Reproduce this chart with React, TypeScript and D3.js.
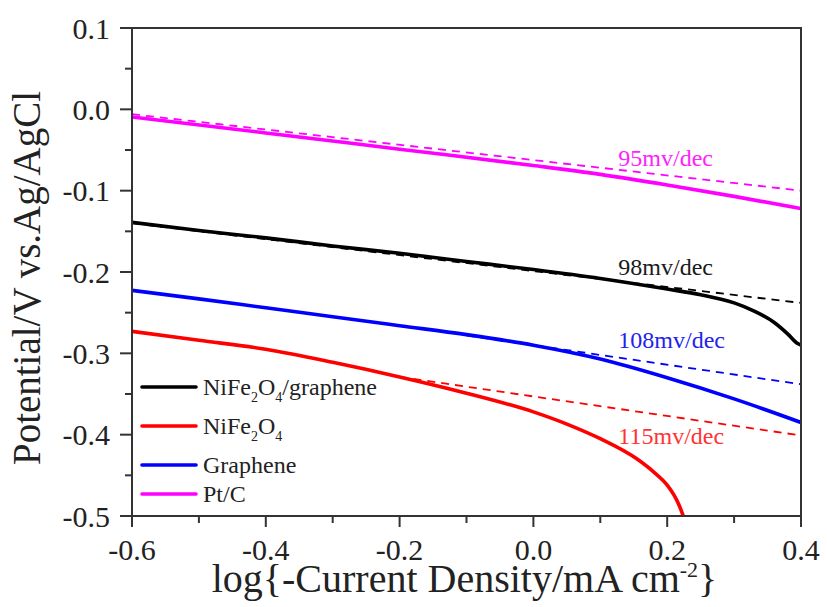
import React from "react";
import * as d3 from "d3";

// ---- data ----
const seriesNames = ["NiFe2O4/graphene", "NiFe2O4", "Graphene", "Pt/C"];
const seriesColors = ["#000000", "#ff0000", "#0000ff", "#ff00ff"];

const blackX = [-0.6, -0.5, -0.4, -0.3, -0.2, -0.1, 0, 0.1, 0.2, 0.25, 0.3, 0.33, 0.36, 0.38, 0.395, 0.4];
const blackY = [-0.139, -0.149, -0.158, -0.168, -0.177, -0.187, -0.197, -0.208, -0.221, -0.228, -0.238, -0.248, -0.262, -0.276, -0.288, -0.29];

const redX = [-0.6, -0.5, -0.4, -0.3, -0.2, -0.1, 0, 0.05, 0.1, 0.155, 0.18, 0.2, 0.21, 0.218, 0.224];
const redY = [-0.273, -0.284, -0.295, -0.311, -0.329, -0.349, -0.372, -0.387, -0.405, -0.43, -0.446, -0.462, -0.474, -0.487, -0.5];

const blueX = [-0.6, -0.5, -0.4, -0.3, -0.2, -0.1, 0, 0.1, 0.2, 0.3, 0.4];
const blueY = [-0.2226, -0.233, -0.244, -0.255, -0.266, -0.277, -0.29, -0.307, -0.33, -0.356, -0.385];

const ptX = [-0.6, -0.4, -0.2, 0, 0.1, 0.2, 0.3, 0.4];
const ptY = [-0.0095, -0.029, -0.049, -0.069, -0.08, -0.093, -0.107, -0.122];

// Tafel fit lines (start x, start y, end x, end y) per series
const tafelX0 = [-0.6, -0.2, -0.1, -0.6];
const tafelY0 = [-0.14, -0.329, -0.278, -0.006];
const tafelX1 = [0.4, 0.4, 0.4, 0.4];
const tafelY1 = [-0.238, -0.401, -0.338, -0.1];

const tafelLabels = ["98mv/dec", "115mv/dec", "108mv/dec", "95mv/dec"];
const tafelLabelX = [0.127, 0.127, 0.127, 0.127];
const tafelLabelY = [-0.204, -0.411, -0.294, -0.07];
const tafelLabelColors = ["#1a1a1a", "#ff3333", "#2222ee", "#ff22ff"];

const xTicks = [-0.6, -0.4, -0.2, 0.0, 0.2, 0.4];
const xMinor = [-0.5, -0.3, -0.1, 0.1, 0.3];
const yTicks = [0.1, 0.0, -0.1, -0.2, -0.3, -0.4, -0.5];
const yMinor = [0.05, -0.05, -0.15, -0.25, -0.35, -0.45];

const W = 827;
const H = 607;
const left = 132, right = 801, top = 28, bottom = 516;

export default function App() {
  const x = d3.scaleLinear().domain([-0.6, 0.4]).range([left, right]);
  const y = d3.scaleLinear().domain([-0.5, 0.1]).range([bottom, top]);
  const font = "'Liberation Serif', 'Times New Roman', serif";

  const seriesX = [blackX, redX, blueX, ptX];
  const seriesY = [blackY, redY, blueY, ptY];

  const line = d3
    .line<[number, number]>()
    .x((d) => x(d[0]))
    .y((d) => y(d[1]))
    .curve(d3.curveMonotoneX);

  const fmt = (v: number) => (Math.abs(v) < 1e-9 ? "0.0" : v.toFixed(1));

  const legendY = [387, 426, 465, 494];

  return (
    <svg width={W} height={H} style={{ position: "absolute", left: 0, top: 0, background: "#fff" }} fontFamily={font}>
      <defs>
        <clipPath id="plot">
          <rect x={left} y={top} width={right - left} height={bottom - top} />
        </clipPath>
      </defs>
      <rect x={0} y={0} width={W} height={H} fill="#fff" />

      {/* tafel dashed lines */}
      <g clipPath="url(#plot)">
        {tafelX0.map((_, i) => (
          <line
            key={"t" + i}
            x1={x(tafelX0[i])}
            y1={y(tafelY0[i])}
            x2={x(tafelX1[i])}
            y2={y(tafelY1[i])}
            stroke={seriesColors[i]}
            strokeWidth={1.8}
            strokeDasharray="8,6"
          />
        ))}
        {seriesX.map((xs, i) => (
          <path
            key={"s" + i}
            d={line(xs.map((v, j) => [v, seriesY[i][j]] as [number, number])) || ""}
            fill="none"
            stroke={seriesColors[i]}
            strokeWidth={3.6}
            strokeLinecap="round"
          />
        ))}
      </g>

      {/* tafel labels */}
      {tafelLabels.map((t, i) => (
        <text key={"l" + i} x={x(tafelLabelX[i])} y={y(tafelLabelY[i])} fontSize={24} fill={tafelLabelColors[i]}>
          {t}
        </text>
      ))}

      {/* frame */}
      <rect x={left} y={top} width={right - left} height={bottom - top} fill="none" stroke="#333" strokeWidth={2} />

      {/* y ticks */}
      {yTicks.map((t) => (
        <g key={"yt" + t}>
          <line x1={left - 12} x2={left} y1={y(t)} y2={y(t)} stroke="#333" strokeWidth={2} />
          <text x={110} y={y(t)} dy="0.35em" textAnchor="end" fontSize={30} fill="#222">
            {fmt(t)}
          </text>
        </g>
      ))}
      {yMinor.map((t) => (
        <line key={"ym" + t} x1={left - 7} x2={left} y1={y(t)} y2={y(t)} stroke="#333" strokeWidth={2} />
      ))}

      {/* x ticks */}
      {xTicks.map((t) => (
        <g key={"xt" + t}>
          <line x1={x(t)} x2={x(t)} y1={bottom} y2={bottom + 11} stroke="#333" strokeWidth={2} />
          <text x={x(t)} y={560} textAnchor="middle" fontSize={30} fill="#222">
            {fmt(t)}
          </text>
        </g>
      ))}
      {xMinor.map((t) => (
        <line key={"xm" + t} x1={x(t)} x2={x(t)} y1={bottom} y2={bottom + 7} stroke="#333" strokeWidth={2} />
      ))}

      {/* axis titles */}
      <text x={(left + right) / 2 - 2} y={592} textAnchor="middle" fontSize={40} fill="#222">
        log{"{"}-Current Density/mA cm
        <tspan dy={-15} fontSize={22}>-2</tspan>
        <tspan dy={15}>{"}"}</tspan>
      </text>
      <text
        transform={`translate(40, 278) rotate(-90)`}
        textAnchor="middle"
        fontSize={39}
        fill="#222"
      >
        Potential/V vs.Ag/AgCl
      </text>

      {/* legend */}
      {seriesNames.map((n, i) => (
        <g key={"lg" + i}>
          <line x1={142} x2={196} y1={legendY[i]} y2={legendY[i]} stroke={seriesColors[i]} strokeWidth={3.6} strokeLinecap="round" />
          <text x={203} y={legendY[i]} dy="0.35em" fontSize={24} fill="#222">
            {n === "NiFe2O4/graphene" ? (
              <>
                NiFe<tspan fontSize={14} dy={7}>2</tspan>
                <tspan dy={-7}>O</tspan>
                <tspan fontSize={14} dy={7}>4</tspan>
                <tspan dy={-7}>/graphene</tspan>
              </>
            ) : n === "NiFe2O4" ? (
              <>
                NiFe<tspan fontSize={14} dy={7}>2</tspan>
                <tspan dy={-7}>O</tspan>
                <tspan fontSize={14} dy={7}>4</tspan>
              </>
            ) : (
              n
            )}
          </text>
        </g>
      ))}
    </svg>
  );
}
